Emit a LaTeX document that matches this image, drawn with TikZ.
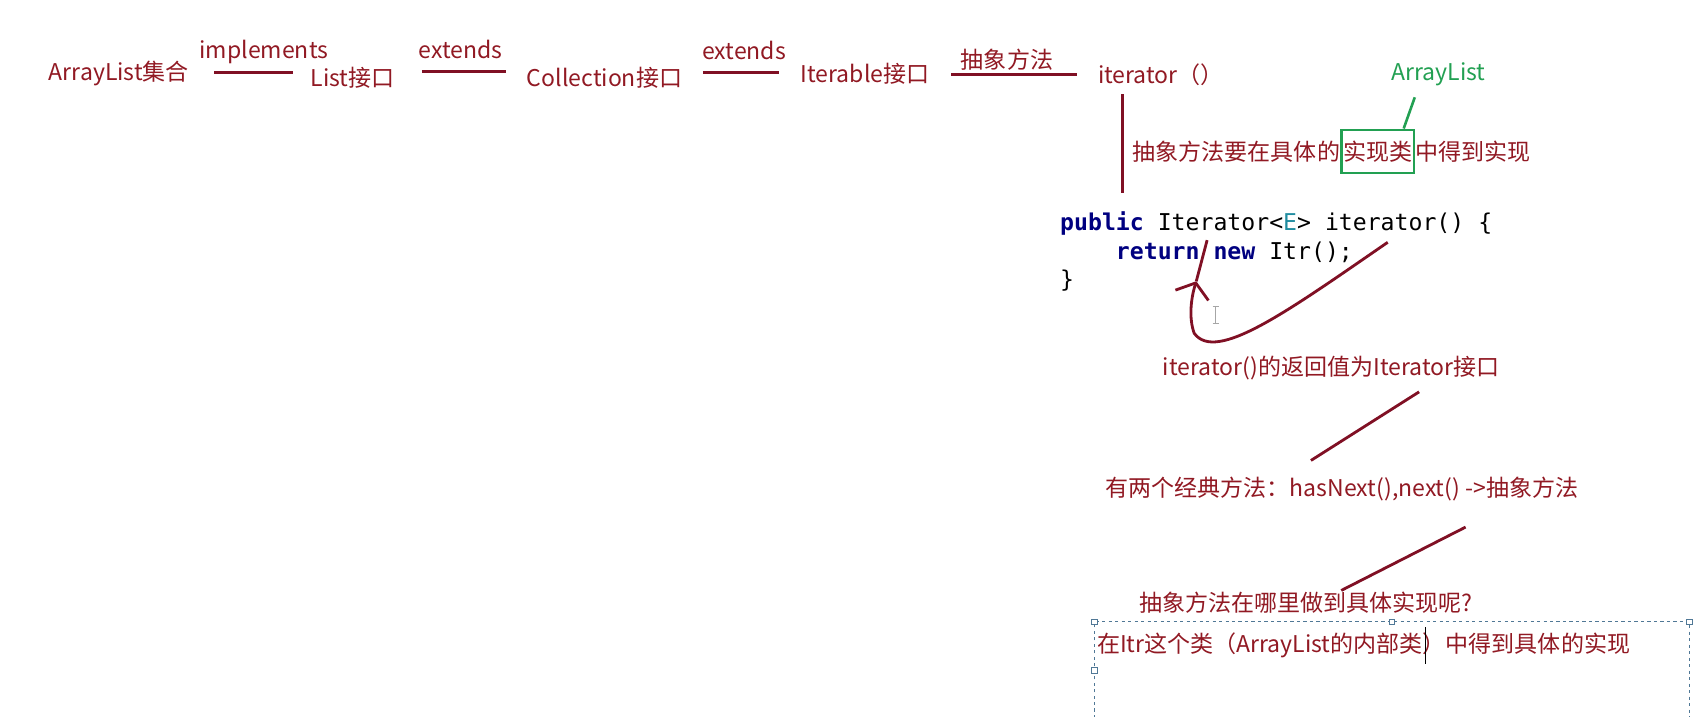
\documentclass[tikz,border=0pt]{standalone}
\usepackage{fontspec}
\setmainfont{Noto Sans CJK SC}
\setmonofont{DejaVu Sans Mono}
\usepackage{xcolor}
\usetikzlibrary{positioning,arrows.meta}

\definecolor{textred}{RGB}{145,25,35}
\definecolor{linered}{RGB}{128,16,36}
\definecolor{notegreen}{RGB}{34,160,82}
\definecolor{keyblue}{RGB}{0,0,128}
\definecolor{typeteal}{RGB}{32,140,160}
\definecolor{selblue}{RGB}{80,120,150}

\tikzset{
  lbl/.style={text=textred, inner sep=0pt, anchor=west, font=\fontsize{21.3}{25}\selectfont},
  codeline/.style={inner sep=0pt, anchor=west, font=\ttfamily\fontsize{21.4}{26}\selectfont},
  redline/.style={draw=linered, line width=2.6pt},
  handle/.style={draw=selblue, fill=white, line width=0.8pt, minimum size=5pt, inner sep=0pt}
}

\begin{document}
\begin{tikzpicture}[x=1pt,y=1pt,yscale=-1]
\useasboundingbox (0,0) rectangle (1568,662);
\clip (0,0) rectangle (1568,662);

% Text Node
\node[lbl] (al) at (45,68) {ArrayList集合};
% Text Node
\node[lbl] (list) at (287,72) {List接口};
% Text Node
\node[lbl] (coll) at (487,72) {Collection接口};
% Text Node
\node[lbl] (itbl) at (740,68) {Iterable接口};
% Text Node
\node[lbl] (meth) at (1015,69) {iterator（）};

% Text Node
\node[lbl, anchor=center] (impl) at (244,48) {implements};
% Text Node
\node[lbl, anchor=center] (ext1) at (426,46) {extends};
% Text Node
\node[lbl, anchor=center] (ext2) at (688,47) {extends};
% Text Node
\node[lbl, anchor=center] (abst) at (931,55) {抽象方法};

%Straight Lines
\draw[redline] ([xshift=23pt,yshift=-1pt]al.east) -- ([xshift=-16pt,yshift=-5pt]list.west);
%Straight Lines
\draw[redline] ([xshift=25pt,yshift=-6pt]list.east) -- ([xshift=-19pt,yshift=-6pt]coll.west);
%Straight Lines
\draw[redline] ([xshift=19pt,yshift=-5pt]coll.east) -- ([xshift=-20pt,yshift=-1pt]itbl.west);
%Straight Lines
\draw[redline] ([xshift=20pt,yshift=1pt]itbl.east) -- ([xshift=-19pt]meth.west);

% Text Node
\node[lbl] (n1a) at (1047,140) {抽象方法要在具体的};
\node[lbl, draw=notegreen, line width=2.4pt, inner xsep=1.5pt, minimum height=40pt, right=0pt of n1a] (impl box) {实现类};
\node[lbl, right=0pt of impl box] (n1b) {中得到实现};
% Text Node
\node[lbl, anchor=center, text=notegreen] (green) at (1330,69) {ArrayList};
%Straight Lines
\draw[draw=notegreen, line width=2.4pt] ([xshift=-22pt,yshift=10pt]green.south) -- ([xshift=24pt]impl box.north);

% code
\node[codeline] (code1) at (980,207) {\textcolor{keyblue}{\bfseries public} Iterator<\textcolor{typeteal}{E}> iterator() \{};
\node[codeline] (code2) at (980,233) {\phantom{0000}\textcolor{keyblue}{\bfseries return} \textcolor{keyblue}{\bfseries new} Itr();};
\node[codeline] (code3) at (980,259) {\}};

%Straight Lines
\draw[redline] ([xshift=23pt,yshift=8pt]meth.south west) -- ([xshift=58pt,yshift=-17pt]code1.north west);

% hand drawn arrow
\coordinate (cs) at (1283,224);
\coordinate (ctip) at (1106,260);
\coordinate (ce) at (1116,222);
\draw[redline, -{Straight Barb[length=12pt,width=32pt]}] (cs) .. controls (1190,288) and (1124,336) .. (1104,308) .. controls (1099,294) and (1101,276) .. (ctip);
\draw[redline] (ctip) -- (ce);

% cursor
\draw[gray!70, line width=0.9pt] (1124,283) -- (1124,299) (1121,283) -- (1127,283) (1121,299) -- (1127,299);

% Text Node
\node[lbl] (n2) at (1075,340) {iterator()的返回值为Iterator接口};
% Text Node
\node[lbl] (n3) at (1022,452) {有两个经典方法：hasNext(),next() ->抽象方法};
% Text Node
\node[lbl] (n4) at (1053,557) {抽象方法在哪里做到具体实现呢?};

%Straight Lines
\draw[redline] ([xshift=237pt,yshift=11pt]n2.south west) -- ([xshift=190pt,yshift=-15pt]n3.north west);
%Straight Lines
\draw[redline] ([xshift=333pt,yshift=24pt]n3.south west) -- ([xshift=187pt,yshift=-1pt]n4.north west);

% selection box
\draw[selblue, line width=0.9pt, dashed] (1012,670) -- (1012,575) -- (1562,575) -- (1562,670);
\node[handle] (h1) at (1012,575) {};
\node[handle] (h2) at (1287,575) {};
\node[handle] (h3) at (1562,575) {};
\node[handle] (h4) at (1012,620) {};

% Text Node
\node[lbl] (n5) at (1014,597) {在Itr这个类（ArrayList的内部类）中得到具体的实现};
\draw[black, line width=0.9pt] (1317.5,580) -- (1317.5,614);

\end{tikzpicture}
\end{document}
